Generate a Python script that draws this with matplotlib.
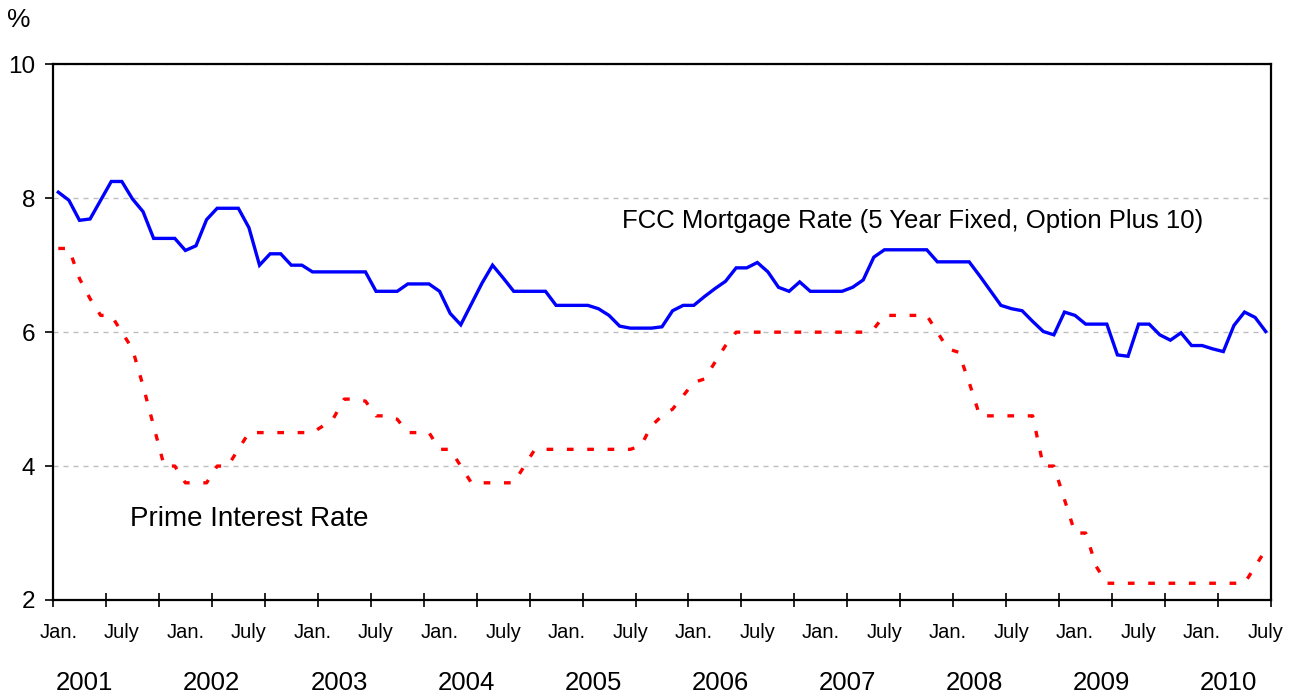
import numpy as np
import matplotlib
matplotlib.use("Agg")
import matplotlib.pyplot as plt

plt.rcParams['font.family'] = ['Liberation Sans', 'DejaVu Sans']

# monthly observations, Jan. 2001 .. July 2010
years = [2001, 2002, 2003, 2004, 2005, 2006, 2007, 2008, 2009, 2010]
half_labels = ["Jan.", "July"]

fcc_rate = [
    8.09, 7.97, 7.67, 7.69, 7.97, 8.25, 8.25, 7.99, 7.80, 7.40, 7.40, 7.40,   # 2001
    7.22, 7.29, 7.68, 7.85, 7.85, 7.85, 7.56, 7.00, 7.17, 7.17, 7.00, 7.00,   # 2002
    6.90, 6.90, 6.90, 6.90, 6.90, 6.90, 6.61, 6.61, 6.61, 6.72, 6.72, 6.72,   # 2003
    6.61, 6.28, 6.11, 6.42, 6.73, 7.00, 6.81, 6.61, 6.61, 6.61, 6.61, 6.40,   # 2004
    6.40, 6.40, 6.40, 6.35, 6.25, 6.09, 6.06, 6.06, 6.06, 6.08, 6.32, 6.40,   # 2005
    6.40, 6.53, 6.65, 6.76, 6.96, 6.96, 7.04, 6.90, 6.67, 6.61, 6.75, 6.61,   # 2006
    6.61, 6.61, 6.61, 6.67, 6.78, 7.12, 7.23, 7.23, 7.23, 7.23, 7.23, 7.05,   # 2007
    7.05, 7.05, 7.05, 6.84, 6.62, 6.40, 6.35, 6.32, 6.16, 6.01, 5.96, 6.30,   # 2008
    6.25, 6.12, 6.12, 6.12, 5.66, 5.64, 6.12, 6.12, 5.96, 5.88, 5.99, 5.80,   # 2009
    5.80, 5.75, 5.71, 6.10, 6.30, 6.22, 6.01,                                 # 2010
]

prime_rate = [
    7.25, 7.25, 6.80, 6.50, 6.25, 6.25, 6.00, 5.75, 5.20, 4.60, 4.00, 4.00,   # 2001
    3.75, 3.75, 3.75, 4.00, 4.00, 4.25, 4.50, 4.50, 4.50, 4.50, 4.50, 4.50,   # 2002
    4.50, 4.60, 4.72, 5.00, 5.00, 4.97, 4.75, 4.75, 4.70, 4.50, 4.50, 4.50,   # 2003
    4.25, 4.25, 4.00, 3.75, 3.75, 3.75, 3.75, 3.75, 4.00, 4.25, 4.25, 4.25,   # 2004
    4.25, 4.25, 4.25, 4.25, 4.25, 4.25, 4.25, 4.30, 4.60, 4.75, 4.85, 5.05,   # 2005
    5.25, 5.30, 5.55, 5.80, 6.00, 6.00, 6.00, 6.00, 6.00, 6.00, 6.00, 6.00,   # 2006
    6.00, 6.00, 6.00, 6.00, 6.00, 6.05, 6.25, 6.25, 6.25, 6.25, 6.25, 6.00,   # 2007
    5.75, 5.70, 5.25, 4.75, 4.75, 4.75, 4.75, 4.75, 4.75, 4.00, 4.00, 3.50,   # 2008
    3.00, 3.00, 2.50, 2.25, 2.25, 2.25, 2.25, 2.25, 2.25, 2.25, 2.25, 2.25,   # 2009
    2.25, 2.25, 2.25, 2.25, 2.25, 2.50, 2.75,                                 # 2010
]

fcc_label = "FCC Mortgage Rate (5 Year Fixed, Option Plus 10)"
prime_label = "Prime Interest Rate"

n = len(fcc_rate)
months = np.arange(n)

fig = plt.figure(figsize=(13.01, 6.98), dpi=100)
ax = fig.add_axes([53 / 1301, 1 - 600 / 698, (1271 - 53) / 1301, (600 - 64.3) / 698])

ax.plot(months, fcc_rate, color="#0000ff", lw=2.4, solid_joinstyle="miter", zorder=3)
ax.plot(months, prime_rate, color="#ff0000", lw=2.4, linestyle=(0, (2.0, 4.1)),
        dash_capstyle="butt", zorder=3)

ax.set_xlim(-0.5, n - 0.5)
ax.set_ylim(2, 10)
ax.set_yticks([2, 4, 6, 8, 10])
ax.set_xticks(np.arange(-0.5, n, 5))
ax.set_xticklabels([])
ax.tick_params(axis="y", direction="out", length=6, width=1.2, pad=7, labelsize=17.5)
ax.tick_params(axis="x", direction="inout", length=10, width=1.2)
for s in ax.spines.values():
    s.set_linewidth(1.6)

for v in [4, 6, 8, 10]:
    ax.axhline(v, color="#bdbdbd", lw=1.0, linestyle=(0, (3.6, 3.6)), zorder=1)

# half-year labels and years under the axis
xt = ax.get_xaxis_transform()
for k in range(0, n, 6):
    ax.text(k, -0.06, half_labels[(k // 6) % 2], transform=xt, ha="center", va="center",
            fontsize=14.5)
for j, yr in enumerate(years):
    ax.text(12 * j + 2.5, -0.155, str(yr), transform=xt, ha="center", va="center",
            fontsize=18.5)

fig.text(19 / 1301, 1 - 20 / 698, "%", ha="center", va="center", fontsize=19)

ax.text(53.2, 7.55, fcc_label, ha="left", va="baseline", fontsize=18.5)
ax.text(6.8, 3.10, prime_label, ha="left", va="baseline", fontsize=20)

fig.savefig("out.png", dpi=100)
